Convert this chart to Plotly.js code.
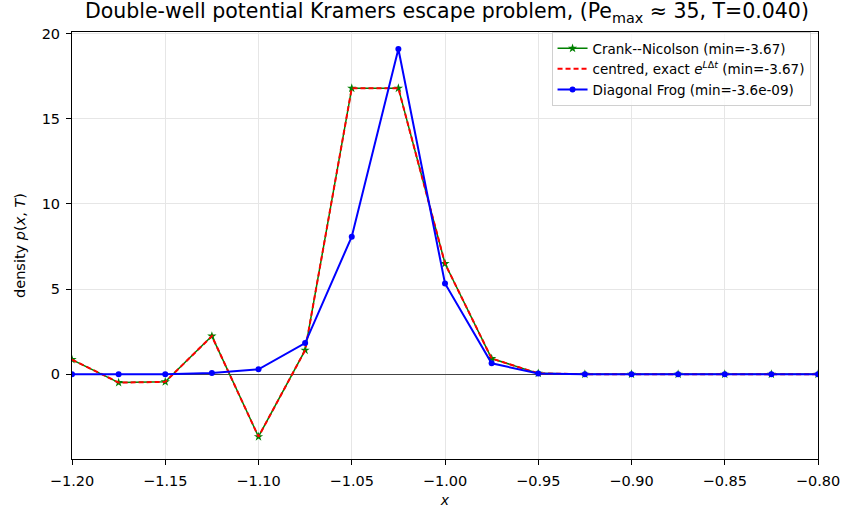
<!DOCTYPE html>
<html>
<head>
<meta charset="utf-8">
<script src="https://cdn.plot.ly/plotly-3.0.1.min.js"></script>
<style>html,body{margin:0;padding:0;background:#fff;}#chart{width:848px;height:509px;}</style>
</head>
<body>
<div id="chart"></div>
<script>
const xVals = [-1.2, -1.175, -1.15, -1.125, -1.1, -1.075, -1.05, -1.025, -1.0, -0.975, -0.95, -0.925, -0.9, -0.875, -0.85, -0.825, -0.8];
const crankNicolson = [0.86, -0.49, -0.45, 2.24, -3.67, 1.41, 16.8, 16.8, 6.5, 0.92, 0.05, 0.0, 0.0, 0.0, 0.0, 0.0, 0.0];
const centredExact = [0.86, -0.49, -0.45, 2.24, -3.67, 1.41, 16.8, 16.8, 6.5, 0.92, 0.05, 0.0, 0.0, 0.0, 0.0, 0.0, 0.0];
const diagonalFrog = [0.0, 0.0, 0.0, 0.07, 0.29, 1.83, 8.08, 19.1, 5.33, 0.64, 0.04, 0.0, 0.0, 0.0, 0.0, 0.0, 0.0];
const xTicks = [-1.2, -1.15, -1.1, -1.05, -1.0, -0.95, -0.9, -0.85, -0.8];
const yTicks = [0, 5, 10, 15, 20];

const font = 'DejaVu Sans, sans-serif';
const traces = [
  {x: xVals, y: crankNicolson, mode: 'lines+markers', name: 'Crank--Nicolson (min=-3.67)',
   line: {color: 'green', width: 1.5}, marker: {symbol: 'star', size: 7, color: 'green'}},
  {x: xVals, y: centredExact, mode: 'lines', name: 'centred, exact <i>e</i><sup><i>L</i>Δ<i>t</i></sup> (min=-3.67)',
   line: {color: 'red', width: 2, dash: '5px,3px'}},
  {x: xVals, y: diagonalFrog, mode: 'lines+markers', name: 'Diagonal Frog (min=-3.6e-09)',
   line: {color: 'blue', width: 2}, marker: {symbol: 'circle', size: 6, color: 'blue'}}
];
const layout = {
  width: 848, height: 509,
  margin: {l: 72, r: 30, t: 32, b: 50},
  paper_bgcolor: '#fff', plot_bgcolor: '#fff',
  font: {family: font, size: 13, color: '#000'},
  title: {text: 'Double-well potential Kramers escape problem, (Pe<sub>max</sub> ≈ 35, T=0.040)',
          font: {family: font, size: 20.5, color: '#000'}, x: 0.527, xanchor: 'center', y: 0.992, yanchor: 'top'},
  xaxis: {range: [-1.2, -0.8], tickvals: xTicks, tickformat: '.2f',
          title: {text: '<i>x</i>', font: {size: 14}, standoff: 6},
          showgrid: true, gridcolor: '#e6e6e6', gridwidth: 1, zeroline: false,
          showline: true, linecolor: '#000', linewidth: 1, mirror: true,
          ticks: 'outside', ticklen: 5, tickcolor: '#000', tickfont: {size: 14.5}, ticklabelstandoff: 4},
  yaxis: {range: [-4.98, 20.1], tickvals: yTicks,
          title: {text: 'density <i>p</i>(<i>x</i>, <i>T</i>)', font: {size: 14.5}, standoff: 12},
          showgrid: true, gridcolor: '#e6e6e6', gridwidth: 1,
          zeroline: true, zerolinecolor: '#444', zerolinewidth: 1,
          showline: true, linecolor: '#000', linewidth: 1, mirror: true,
          ticks: 'outside', ticklen: 5, tickcolor: '#000', tickfont: {size: 14.5}, ticklabelstandoff: 3},
  legend: {x: 0.99, y: 1.0, xanchor: 'right', yanchor: 'top',
           bgcolor: 'rgba(255,255,255,0.8)', bordercolor: '#d0d0d0', borderwidth: 1,
           font: {size: 13.5}, tracegroupgap: 0},
  showlegend: true
};
Plotly.newPlot('chart', traces, layout, {displayModeBar: false, staticPlot: true});
</script>
</body>
</html>
